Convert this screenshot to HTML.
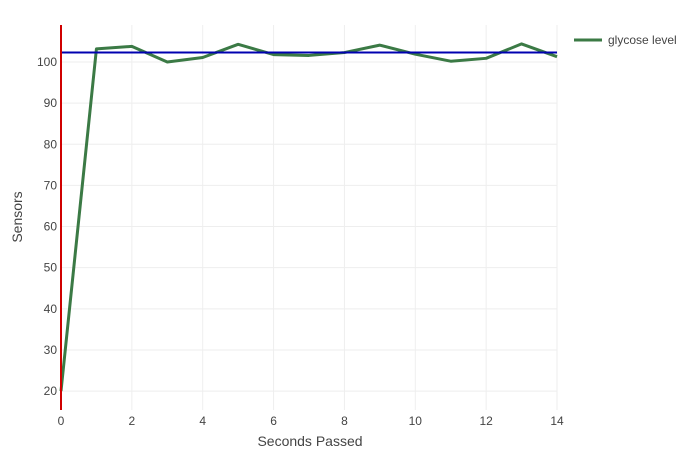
<!DOCTYPE html>
<html><head><meta charset="utf-8"><style>
body{margin:0;background:#fff;font-family:"Liberation Sans",sans-serif}
svg text{font-family:"Liberation Sans",sans-serif;fill:#444}
</style></head><body>
<svg width="700" height="450">
<g id="grid"></g><g id="axes"></g><g id="marks"></g>
<text x="310" y="446" font-size="14" text-anchor="middle">Seconds Passed</text>
<text transform="translate(22,217) rotate(-90)" font-size="14" text-anchor="middle">Sensors</text>
<g>
<line x1="574" y1="40" x2="602" y2="40" stroke="#3b7a45" stroke-width="3"/>
<text x="608" y="44" font-size="12">glycose level</text>
</g>
</svg>
<script>
const xs=[0,1,2,3,4,5,6,7,8,9,10,11,12,13,14];
const glucose=[20,103.2,103.8,100,101.1,104.3,101.8,101.6,102.3,104.1,101.9,100.2,100.9,104.4,101.3];
const meanLevel=[102.3];
const xTicks=[0,2,4,6,8,10,12,14];
const yTicks=[20,30,40,50,60,70,80,90,100];
const L=61,R=557,T=25,B=410,xmin=0,xmax=14,ymin=15.4,ymax=109;
const X=v=>L+(v-xmin)/(xmax-xmin)*(R-L);
const Y=v=>B-(v-ymin)/(ymax-ymin)*(B-T);
const NS='http://www.w3.org/2000/svg';
function mk(p,t,a){const e=document.createElementNS(NS,t);for(const k in a)e.setAttribute(k,a[k]);document.getElementById(p).appendChild(e);return e;}
xTicks.forEach(v=>{
 const l=mk('grid','line',{x1:X(v),x2:X(v),y1:T,y2:B,stroke:'#eee'});
 
 
 const t=mk('axes','text',{x:X(v),y:B+15,'font-size':12,'text-anchor':'middle'});t.textContent=v;
 
 
});
yTicks.forEach(v=>{
 const l=mk('grid','line',{x1:L,x2:R,y1:Y(v),y2:Y(v),stroke:'#eee'});
 
 
 const t=mk('axes','text',{x:L-4,y:Y(v)+4,'font-size':12,'text-anchor':'end'});t.textContent=v;
 
 
});
const pl=mk('marks','polyline',{points:xs.map((x,i)=>X(x)+','+Y(glucose[i])).join(' '),fill:'none',stroke:'#3b7a45','stroke-width':3,'stroke-linejoin':'round'});


const hl=mk('marks','line',{x1:L,x2:R,y1:Y(meanLevel[0]),y2:Y(meanLevel[0]),stroke:'#0000b0','stroke-width':2});


const vl=mk('marks','line',{x1:X(0),x2:X(0),y1:T,y2:B,stroke:'#d00000','stroke-width':2});


</script>
</body></html>
